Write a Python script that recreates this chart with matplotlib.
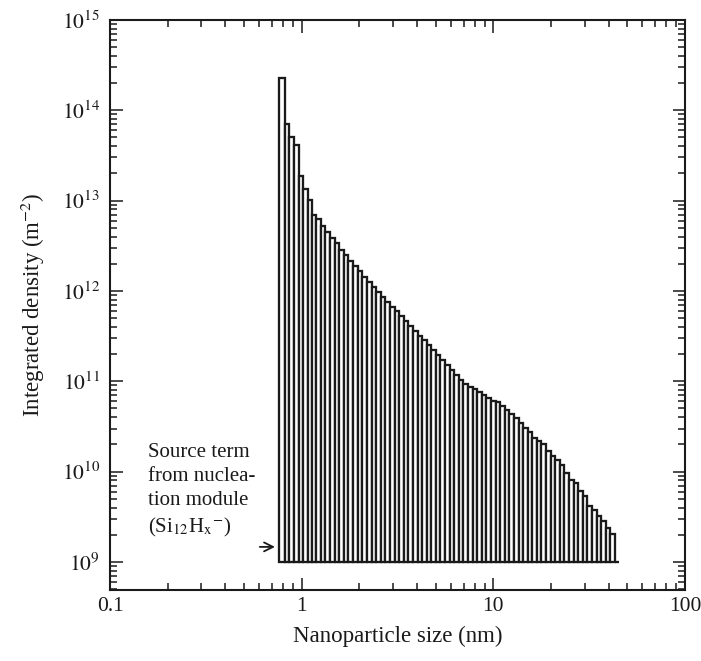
import numpy as np
import matplotlib
matplotlib.use("Agg")
import matplotlib.pyplot as plt
from matplotlib.ticker import FixedLocator, FixedFormatter, LogLocator, NullFormatter

plt.rcParams["font.family"] = ["Liberation Serif", "DejaVu Serif"]
plt.rcParams["mathtext.fontset"] = "stix"

# section edges (nm)
edges = [0.764, 0.816, 0.862, 0.912, 0.965, 1.019, 1.075, 1.131, 1.191, 1.256,
         1.327, 1.404, 1.485, 1.570, 1.661, 1.748, 1.850, 1.957, 2.068, 2.189,
         2.315, 2.446, 2.588, 2.735, 2.891, 3.054, 3.227, 3.410, 3.604, 3.808,
         4.024, 4.252, 4.494, 4.749, 5.018, 5.302, 5.603, 5.921, 6.257, 6.612,
         6.987, 7.383, 7.802, 8.244, 8.712, 9.206, 9.728, 10.28, 10.86, 11.48,
         12.13, 12.82, 13.55, 14.31, 15.13, 15.98, 16.89, 17.85, 18.86, 19.93,
         21.06, 22.26, 23.52, 24.85, 26.26, 27.75, 29.33, 30.99, 32.75, 34.60,
         36.56, 38.64, 40.83, 43.14, 45.48]

# integrated density per section (m^-2)
density = [2.30e14, 7.05e13, 5.02e13, 4.16e13, 1.87e13, 1.33e13, 1.01e13, 6.93e12,
           6.21e12, 5.28e12, 4.53e12, 3.88e12, 3.37e12, 2.87e12, 2.48e12, 2.16e12,
           1.89e12, 1.66e12, 1.44e12, 1.26e12, 1.11e12, 9.85e11, 8.62e11, 7.59e11,
           6.68e11, 5.94e11, 5.23e11, 4.64e11, 4.09e11, 3.62e11, 3.19e11, 2.84e11,
           2.50e11, 2.22e11, 1.94e11, 1.70e11, 1.50e11, 1.32e11, 1.16e11, 1.03e11,
           9.31e10, 8.55e10, 8.13e10, 7.65e10, 7.08e10, 6.51e10, 6.08e10, 5.88e10,
           5.31e10, 4.83e10, 4.30e10, 3.94e10, 3.47e10, 3.05e10, 2.76e10, 2.33e10,
           2.16e10, 2.03e10, 1.70e10, 1.50e10, 1.33e10, 1.19e10, 9.70e9, 8.05e9,
           7.46e9, 6.04e9, 5.40e9, 4.22e9, 3.81e9, 3.21e9, 2.85e9, 2.39e9,
           2.03e9, 1.0e9]

base = 1e9
xticks = [0.1, 1, 10, 100]
xticklabels = ["0.1", "1", "10", "100"]
yticks = [1e9, 1e10, 1e11, 1e12, 1e13, 1e14, 1e15]
yticklabels = [r"$10^{%d}$" % k for k in range(9, 16)]

edges = np.array(edges)
density = np.array(density)

fig = plt.figure(figsize=(7.01, 6.61), dpi=100)
ax = fig.add_axes([0.157, 0.1074, 0.820, 0.8626])

ax.bar(edges[:-1], density - base, width=np.diff(edges), bottom=base, align="edge",
       facecolor="white", edgecolor="#1a1a1a", linewidth=1.65)

ax.set_xscale("log")
ax.set_yscale("log")
ax.set_xlim(0.1, 100)
ax.set_ylim(4.9e8, 1e15)

ax.xaxis.set_major_locator(FixedLocator(xticks))
ax.xaxis.set_major_formatter(FixedFormatter(xticklabels))
ax.xaxis.set_minor_locator(LogLocator(base=10, subs=np.arange(2, 10)))
ax.xaxis.set_minor_formatter(NullFormatter())
ax.yaxis.set_major_locator(FixedLocator(yticks))
ax.yaxis.set_major_formatter(FixedFormatter(yticklabels))
ax.yaxis.set_minor_locator(LogLocator(base=10, subs=np.arange(2, 10), numticks=20))
ax.yaxis.set_minor_formatter(NullFormatter())

ax.tick_params(which="both", direction="in", top=True, right=True, width=1.1, colors="#1a1a1a")
ax.tick_params(which="major", length=9, labelsize=15.5)
ax.tick_params(axis="x", which="major", pad=5)
ax.tick_params(axis="y", which="major", pad=7)
ax.tick_params(which="minor", length=5)
for s in ax.spines.values():
    s.set_linewidth(1.5)
    s.set_color("#1a1a1a")

ax.set_xlabel("Nanoparticle size (nm)", fontsize=16.5, color="#1a1a1a", labelpad=7)
ax.set_ylabel(r"Integrated density (m$^{-2}$)", fontsize=16.5, color="#1a1a1a", labelpad=11)

ax.text(0.158, 2.1e10, "Source term\nfrom nuclea-\ntion module\n(Si$_{12}$H$_\\mathrm{x}$$^{-}$)",
        fontsize=15, va="top", ha="left", linespacing=1.38, color="#1a1a1a")
ax.annotate("", xy=(0.75, 1.47e9), xytext=(0.585, 1.47e9),
            arrowprops=dict(arrowstyle="->", color="#1a1a1a", lw=1.3, mutation_scale=16))

fig.savefig("out.png", dpi=100)
